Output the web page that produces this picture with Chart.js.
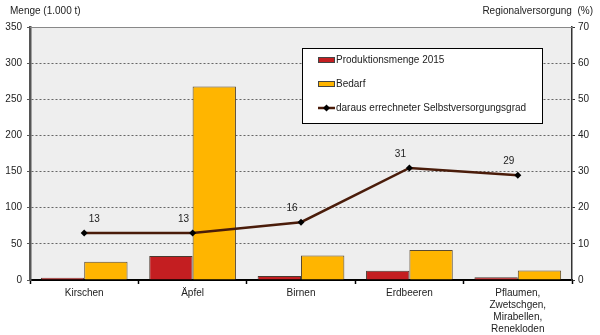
<!DOCTYPE html>
<html lang="de">
<head>
    <meta charset="UTF-8">
    <title>Obst - Produktion, Bedarf und Selbstversorgungsgrad</title>
    <script src="https://cdn.jsdelivr.net/npm/chart.js"></script>
    <style>
        html, body { margin: 0; padding: 0; background: #fff; }
        canvas { display: block; }
    </style>
</head>
<body>
    <canvas id="obstChart" width="600" height="335"></canvas>
    <script>
        const categories = ['Kirschen', 'Äpfel', 'Birnen', 'Erdbeeren', ['Pflaumen,', 'Zwetschgen,', 'Mirabellen,', 'Renekloden']];
        const produktion = [3.2, 33.2, 5.5, 12.9, 3.8];   // 1.000 t
        const bedarf = [25.3, 267.6, 34, 41.5, 13.3];     // 1.000 t
        const selbstversorgung = [13, 13, 16, 31, 29];    // %
        const mengeTicks = [0, 50, 100, 150, 200, 250, 300, 350];
        const prozentTicks = [0, 10, 20, 30, 40, 50, 60, 70];

        const FONT = '"Liberation Sans", Arial, sans-serif';
        const TEXT = '#222';

        // grey plot background, top border line, legend box, axis titles, point labels
        const decor = {
            id: 'decor',
            beforeDraw(chart) {
                const { ctx, chartArea: a } = chart;
                ctx.save();
                ctx.fillStyle = '#eeeeee';
                ctx.fillRect(a.left, a.top, a.right - a.left, a.bottom - a.top);
                ctx.restore();
            },
            beforeDatasetsDraw(chart) {
                const { ctx, chartArea: a } = chart;
                ctx.save();
                ctx.strokeStyle = '#888';
                ctx.lineWidth = 1;
                ctx.beginPath();
                ctx.moveTo(a.left, a.top + 0.5);
                ctx.lineTo(a.right, a.top + 0.5);
                ctx.stroke();
                ctx.restore();
            },
            afterDraw(chart) {
                const ctx = chart.ctx;
                const ds = chart.data.datasets;
                ctx.save();
                ctx.font = '10px ' + FONT;
                ctx.fillStyle = TEXT;
                ctx.textBaseline = 'middle';

                ctx.textAlign = 'left';
                ctx.fillText('Menge (1.000 t)', 10, 11);
                ctx.textAlign = 'right';
                ctx.fillText('Regionalversorgung  (%)', 593, 11);

                // values above the line points
                const meta = chart.getDatasetMeta(2);
                ctx.textAlign = 'center';
                meta.data.forEach((pt, i) => {
                    const dx = i === 0 ? 10 : -9;
                    ctx.fillText(String(ds[2].data[i]), pt.x + dx, pt.y - 14);
                });

                // legend
                ctx.fillStyle = '#fff';
                ctx.fillRect(302, 48, 240, 75);
                ctx.strokeStyle = '#000';
                ctx.lineWidth = 1;
                ctx.strokeRect(302.5, 48.5, 240, 75);

                const rows = [60, 84, 108];
                ds.forEach((d, i) => {
                    const y = rows[i];
                    if (d.type === 'line') {
                        ctx.strokeStyle = d.borderColor;
                        ctx.lineWidth = 2.5;
                        ctx.beginPath();
                        ctx.moveTo(318, y);
                        ctx.lineTo(335, y);
                        ctx.stroke();
                        ctx.fillStyle = '#000';
                        ctx.beginPath();
                        ctx.moveTo(326.5, y - 3.5);
                        ctx.lineTo(330, y);
                        ctx.lineTo(326.5, y + 3.5);
                        ctx.lineTo(323, y);
                        ctx.closePath();
                        ctx.fill();
                    } else {
                        ctx.fillStyle = d.backgroundColor;
                        ctx.fillRect(318, y - 2, 17, 5);
                        ctx.strokeStyle = '#444';
                        ctx.strokeRect(318.5, y - 2.5, 16, 5);
                    }
                    ctx.fillStyle = TEXT;
                    ctx.textAlign = 'left';
                    ctx.fillText(d.label, 336, y + 0.5);
                });
                ctx.restore();
            }
        };

        Chart.defaults.font.family = FONT;
        Chart.defaults.font.size = 10;
        Chart.defaults.color = TEXT;

        new Chart(document.getElementById('obstChart'), {
            data: {
                labels: categories,
                datasets: [
                    {
                        type: 'bar', label: 'Produktionsmenge 2015', data: produktion, yAxisID: 'y',
                        backgroundColor: '#c41e21', borderColor: '#4a3a30', borderWidth: 1, order: 2
                    },
                    {
                        type: 'bar', label: 'Bedarf', data: bedarf, yAxisID: 'y',
                        backgroundColor: '#ffb500', borderColor: '#5a4a30', borderWidth: 1, order: 2
                    },
                    {
                        type: 'line', label: 'daraus errechneter Selbstversorgungsgrad', data: selbstversorgung, yAxisID: 'y2',
                        borderColor: '#4a1c0a', borderWidth: 2.5, tension: 0,
                        pointStyle: 'rectRot', pointRadius: 3.5, pointBackgroundColor: '#000', pointBorderColor: '#000',
                        pointBorderWidth: 0, order: 1
                    }
                ]
            },
            options: {
                responsive: false,
                animation: false,
                layout: { padding: { top: 27, left: 0, right: 0, bottom: 0 } },
                plugins: { legend: { display: false }, tooltip: { enabled: false } },
                datasets: { bar: { categoryPercentage: 0.8, barPercentage: 1.0 } },
                scales: {
                    x: {
                        offset: true,
                        grid: { offset: true, drawOnChartArea: false, drawTicks: true, tickLength: 4, tickColor: '#000', tickWidth: 1.5 },
                        border: { color: '#000', width: 2 },
                        ticks: { padding: 3, maxRotation: 0, autoSkip: false, font: { size: 10, lineHeight: 1.2 } },
                        afterFit(scale) { scale.height = 55; }
                    },
                    y: {
                        position: 'left', min: 0, max: 350,
                        afterBuildTicks(scale) { scale.ticks = mengeTicks.map(v => ({ value: v })); },
                        grid: {
                            color: ctx => (ctx.tick && (ctx.tick.value === 0 || ctx.tick.value === 350)) ? 'rgba(0,0,0,0)' : '#666',
                            lineWidth: 1, drawTicks: true, tickLength: 3, tickColor: '#555', tickBorderDash: []
                        },
                        border: { color: '#555', width: 2.5, dash: [2, 2] },
                        ticks: { padding: 5 },
                        afterFit(scale) { scale.width = 30; }
                    },
                    y2: {
                        position: 'right', min: 0, max: 70,
                        afterBuildTicks(scale) { scale.ticks = prozentTicks.map(v => ({ value: v })); },
                        grid: { drawOnChartArea: false, drawTicks: true, tickLength: 3, tickColor: '#333' },
                        border: { color: '#333', width: 1.5 },
                        ticks: { padding: 3 },
                        afterFit(scale) { scale.width = 28; }
                    }
                }
            },
            plugins: [decor]
        });
    </script>
</body>
</html>
